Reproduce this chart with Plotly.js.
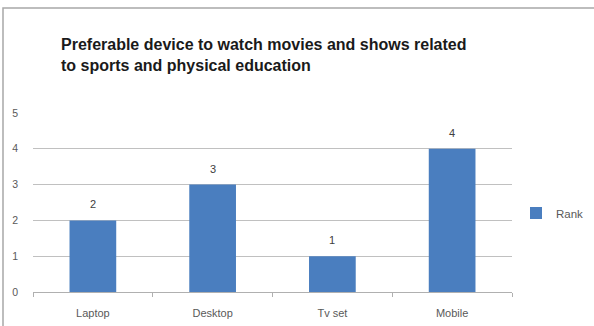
<!DOCTYPE html>
<html>
<head>
<meta charset="utf-8">
<script src="https://cdn.plot.ly/plotly-3.0.1.min.js"></script>
<style>html,body{margin:0;padding:0;background:#fff;}#chart{width:594px;height:326px;}</style>
</head>
<body>
<div id="chart"></div>
<script>
const categories = ["Laptop", "Desktop", "Tv set", "Mobile"];
const rankValues = [2, 3, 1, 4];
const seriesName = "Rank";
const titleText = "Preferable device to watch movies and shows related<br>to sports and physical education";

const FONT = "Liberation Sans, Arial, sans-serif";

const trace = {
  type: "bar",
  x: categories,
  y: rankValues,
  name: seriesName,
  marker: {color: "#4A7EBF"},
  showlegend: true
};

const valueLabels = categories.map((c, i) => ({
  x: c, y: rankValues[i], xref: "x", yref: "y",
  text: String(rankValues[i]),
  showarrow: false, yanchor: "middle", yshift: 16,
  font: {family: FONT, size: 11, color: "#404040"}
}));

const layout = {
  width: 594,
  height: 326,
  margin: {l: 33, r: 82, t: 113, b: 34, autoexpand: false},
  paper_bgcolor: "#ffffff",
  plot_bgcolor: "#ffffff",
  bargap: 0.61,
  title: {
    text: titleText,
    font: {family: FONT, size: 16, color: "#1a1a1a", weight: "bold"},
    x: 61/594, xref: "container", xanchor: "left",
    y: 1 - 50/326, yref: "container", yanchor: "top"
  },
  xaxis: {
    type: "category",
    showgrid: false,
    showline: true,
    linecolor: "#b0b0b0",
    linewidth: 1,
    ticks: "outside",
    tickson: "boundaries",
    ticklen: 4,
    tickcolor: "#b0b0b0",
    ticklabelstandoff: 11,
    tickfont: {family: FONT, size: 11, color: "#595959"},
    fixedrange: true
  },
  yaxis: {
    range: [0, 5],
    dtick: 1,
    showgrid: true,
    gridcolor: "#c0c0c0",
    gridwidth: 1,
    zeroline: false,
    showline: false,
    ticks: "",
    ticklabelstandoff: 14,
    tickfont: {family: FONT, size: 10.5, color: "#595959"},
    fixedrange: true
  },
  legend: {
    xref: "container", yref: "container",
    x: 516/594, xanchor: "left",
    y: 1 - 213/326, yanchor: "middle",
    font: {family: FONT, size: 11.5, color: "#595959"},
    itemwidth: 30
  },
  annotations: valueLabels,
  shapes: [{
    type: "rect", xref: "paper", yref: "paper",
    x0: -30/479, x1: 1.5, y0: -1, y1: (292-8)/179,
    line: {color: "#a8a8a8", width: 1.5}, fillcolor: "rgba(0,0,0,0)", layer: "below"
  }]
};

Plotly.newPlot("chart", [trace], layout, {displayModeBar: false, staticPlot: true});
</script>
</body>
</html>
